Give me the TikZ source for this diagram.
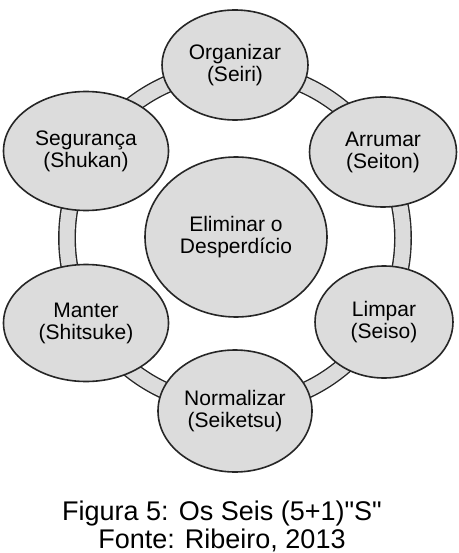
\documentclass[tikz,border=0pt]{standalone}
\usepackage{fontspec}
\setmainfont{Liberation Sans}[Ligatures=TeXOff]
\usepackage{tikz}
\usetikzlibrary{shapes.geometric}
\definecolor{sfill}{HTML}{DCDCDC}
\colorlet{sline}{black!85}

\begin{document}
\begin{tikzpicture}[x=1pt, y=-1pt,
    sbox/.style={ellipse, draw=sline, line width=1.6pt, fill=sfill, align=center,
      inner sep=0pt, font=\fontsize{21}{22}\selectfont},
    ring/.style={draw=sline, line width=1.4pt, double=sfill, double distance=15pt},
    caption/.style={anchor=base, font=\fontsize{27}{28}\selectfont}]
    \useasboundingbox (0,0) rectangle (458,553);

    % ring behind the six S
    \coordinate (mid) at (235,238);
    \draw[ring] (mid) circle (168pt);

    % outer S
    \node[sbox, minimum width=146pt, minimum height=110pt] (org) at (235,65) {Organizar\\(Seiri)};
    \node[sbox, minimum width=147pt, minimum height=110pt] (arr) at (383,152) {Arrumar\\(Seiton)};
    \node[sbox, minimum width=138pt, minimum height=112pt] (lim) at (384,322) {Limpar\\(Seiso)};
    \node[sbox, minimum width=154pt, minimum height=122pt] (nor) at (235,411) {Normalizar\\(Seiketsu)};
    \node[sbox, minimum width=165pt, minimum height=117pt] (man) at (86,323) {Manter\\(Shitsuke)};
    \node[sbox, minimum width=165pt, minimum height=119pt] (seg) at (86,151) {Segurança\\(Shukan)};

    % centre
    \node[sbox, minimum width=182pt, minimum height=160pt] (elim) at (236,237) {Eliminar o\\Desperdício};

    % caption
    \node[caption] (fig) at (222,520) {Figura 5: Os Seis (5+1)"S"};
    \node[caption] (src) at (222,548) {Fonte: Ribeiro, 2013};
\end{tikzpicture}
\end{document}
